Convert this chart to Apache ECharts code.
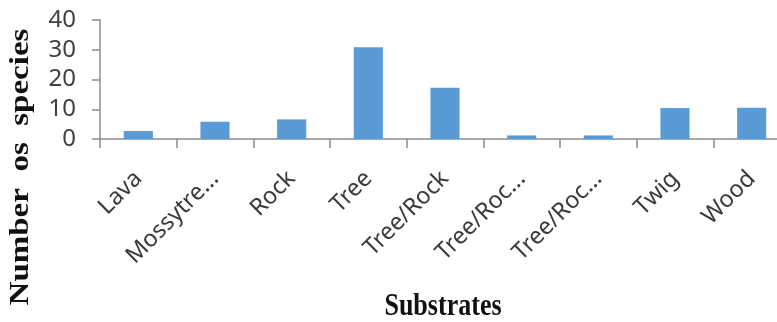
<!DOCTYPE html>
<html>
<head>
<meta charset="utf-8">
<script src="https://cdn.jsdelivr.net/npm/echarts@6/dist/echarts.min.js"></script>
<style>
html,body{margin:0;padding:0;background:#fff;overflow:hidden;}
#chart{width:777px;height:322px;}
</style>
</head>
<body>
<div id="chart"></div>
<script>
const categories = ["Lava", "Mossytre...", "Rock", "Tree", "Tree/Rock", "Tree/Roc...", "Tree/Roc...", "Twig", "Wood"];
const speciesCounts = [2.7, 5.8, 6.6, 30.8, 17.2, 1.2, 1.2, 10.4, 10.5];
const yTicks = [0, 10, 20, 30, 40];
const xTitle = "Substrates";
const yTitle = "Number  os  species";

const chart = echarts.init(document.getElementById('chart'), null, {renderer: 'canvas'});
const axisGray = '#8c8c8c';
chart.setOption({
  animation: false,
  backgroundColor: '#ffffff',
  grid: {left: 100, top: 20, width: 690, bottom: 183, containLabel: false, outerBoundsMode: 'none'},
  xAxis: {
    type: 'category',
    data: categories,
    boundaryGap: true,
    axisLine: {lineStyle: {color: axisGray, width: 1.5}},
    axisTick: {show: true, alignWithLabel: false, length: 9, lineStyle: {color: axisGray, width: 1.5}},
    axisLabel: {
      rotate: 45, margin: 36, interval: 0,
      fontFamily: 'Noto Sans', fontSize: 23.5, color: '#3a3a3a'
    }
  },
  yAxis: {
    type: 'value',
    min: yTicks[0], max: yTicks[yTicks.length - 1], interval: 10,
    splitLine: {show: false},
    axisLine: {show: true, lineStyle: {color: axisGray, width: 1.5}},
    axisTick: {show: true, length: 8, lineStyle: {color: axisGray, width: 1.5}},
    axisLabel: {margin: 24, fontFamily: 'Noto Sans', fontSize: 24, color: '#404040'}
  },
  series: [{
    type: 'bar',
    data: speciesCounts,
    barWidth: '38%',
    itemStyle: {color: '#5b9bd5'}
  }],
  graphic: [
    {
      type: 'text', x: 21, y: 167, rotation: Math.PI / 2, scaleY: 0.84,
      style: {text: yTitle, fontFamily: 'Liberation Serif', fontWeight: 'bold', fontSize: 33,
              fill: '#111', textAlign: 'center', textVerticalAlign: 'middle'}
    },
    {
      type: 'text', x: 443, y: 307, scaleX: 0.84,
      style: {text: xTitle, fontFamily: 'Liberation Serif', fontWeight: 'bold', fontSize: 31,
              fill: '#111', textAlign: 'center', textVerticalAlign: 'middle'}
    }
  ]
});
</script>
</body>
</html>
